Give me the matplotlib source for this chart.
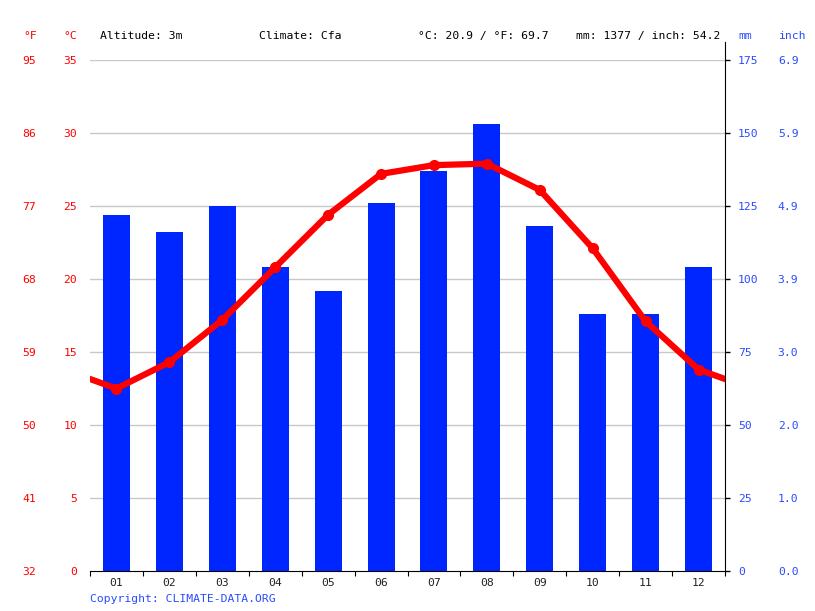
import matplotlib.pyplot as plt
import numpy as np
from matplotlib.ticker import FixedLocator, FuncFormatter

months = ['01', '02', '03', '04', '05', '06', '07', '08', '09', '10', '11', '12']
precip_mm = [122, 116, 125, 104, 96, 126, 137, 153, 118, 88, 88, 104]
temp_c = [12.5, 14.3, 17.2, 20.8, 24.4, 27.2, 27.8, 27.9, 26.1, 22.1, 17.1, 13.8]
c_ticks = [0, 5, 10, 15, 20, 25, 30, 35]
mm_ticks = [0, 25, 50, 75, 100, 125, 150, 175]

altitude = 'Altitude: 3m'
climate = 'Climate: Cfa'

RED = '#ff0000'
BLUE = '#0026ff'
LBLUE = '#2a4bff'
FONT = 'DejaVu Sans Mono'
FS = 8.2

plt.rcParams['font.family'] = FONT
plt.rcParams['font.size'] = FS

fig = plt.figure(figsize=(8.15, 6.11), dpi=100)
ax = fig.add_axes([90 / 815, 40 / 611, 635 / 815, 511 / 611])
axt = ax.twinx()

x = np.arange(len(months))

# precipitation bars (mm axis, right)
ax.bar(x, precip_mm, width=0.51, color=BLUE, zorder=2)
ax.set_xlim(-0.5, 11.5)
ax.set_ylim(0, 175)
ax.yaxis.tick_right()
ax.yaxis.set_major_locator(FixedLocator(mm_ticks))
ax.tick_params(axis='y', direction='out', length=3.6, width=1, colors='black',
               labelcolor=LBLUE, pad=5.8)
for s in ['left', 'top']:
    ax.spines[s].set_visible(False)
ax.spines['right'].set_visible(True)
ax.spines['right'].set_bounds(0, 181)
ax.spines['right'].set_clip_on(False)
for c in c_ticks[1:]:
    ax.axhline(c * 5, color='#c8c8c8', linewidth=1, zorder=1)

ax.set_xticks(np.arange(-0.5, 12, 1))
ax.set_xticklabels([])
ax.set_xticks(x, minor=True)
ax.set_xticklabels(months, minor=True, color='#222222')
ax.tick_params(axis='x', which='major', length=3.6, direction='out')
ax.tick_params(axis='x', which='minor', length=0, pad=5)

inch = ax.secondary_yaxis(1.0, functions=(lambda v: v / 25.4, lambda v: v * 25.4))
inch.yaxis.set_major_locator(FixedLocator([m / 25.4 for m in mm_ticks]))
inch.yaxis.set_major_formatter(FuncFormatter(lambda v, p: '%.1f' % v))
inch.tick_params(axis='y', length=0, pad=38, labelcolor=LBLUE)
inch.spines['right'].set_visible(False)

# temperature (left)
axt.set_ylim(0, 35)
axt.yaxis.tick_left()
axt.yaxis.set_major_locator(FixedLocator(c_ticks))
axt.tick_params(axis='y', length=0, pad=9.4, labelcolor=RED)
for s in axt.spines.values():
    s.set_visible(False)
ax.set_zorder(1)
axt.set_zorder(2)
axt.patch.set_visible(False)

xe = np.concatenate([[-1], x, [12]])
te = [temp_c[-1]] + temp_c + [temp_c[0]]
axt.plot(xe, te, color=RED, linewidth=4.5, solid_capstyle='round', zorder=3)
axt.plot(x, temp_c, 'o', color=RED, markersize=7, zorder=4)

fahr = axt.secondary_yaxis(0.0, functions=(lambda c: c * 9 / 5 + 32, lambda f: (f - 32) * 5 / 9))
fahr.yaxis.set_major_locator(FixedLocator([c * 9 / 5 + 32 for c in c_ticks]))
fahr.yaxis.set_major_formatter(FuncFormatter(lambda v, p: '%d' % round(v)))
fahr.tick_params(axis='y', length=0, pad=39, labelcolor=RED)
fahr.spines['left'].set_visible(False)

# header
ty = 1 - 36 / 611
mean_c = np.mean(temp_c)
total_mm = sum(precip_mm)
fig.text(30 / 815, ty, '°F', color=RED, ha='center', va='center')
fig.text(70 / 815, ty, '°C', color=RED, ha='center', va='center')
fig.text(100 / 815, ty, altitude, color='black', va='center')
fig.text(259 / 815, ty, climate, color='black', va='center')
fig.text(418 / 815, ty, '°C: %.1f / °F: %.1f' % (mean_c, mean_c * 9 / 5 + 32),
         color='black', va='center')
fig.text(576 / 815, ty, 'mm: %d / inch: %.1f' % (total_mm, total_mm / 25.4),
         color='black', va='center')
fig.text(745 / 815, ty, 'mm', color=LBLUE, ha='center', va='center')
fig.text(792 / 815, ty, 'inch', color=LBLUE, ha='center', va='center')
fig.text(90 / 815, 1 - 599 / 611, 'Copyright: CLIMATE-DATA.ORG', color=LBLUE, va='center')

plt.savefig('out.png', dpi=100)
